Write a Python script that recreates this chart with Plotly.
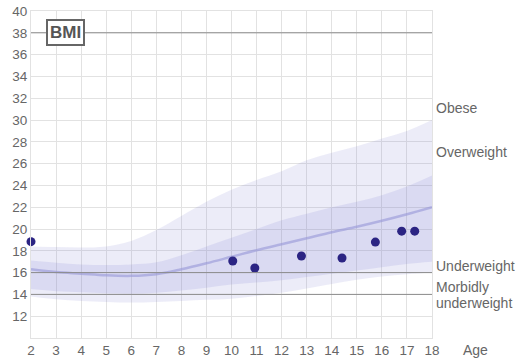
import plotly.graph_objects as go

ages = list(range(2, 19))
outer_top = [18.4, 18.35, 18.3, 18.4, 18.9, 19.9, 21.2, 22.5, 23.6, 24.5, 25.3, 26.3, 27.0, 27.6, 28.3, 29.0, 30.0]
inner_top = [17.1, 16.9, 16.75, 16.7, 16.75, 16.95, 17.6, 18.4, 19.2, 20.0, 20.8, 21.4, 22.0, 22.5, 23.1, 23.9, 24.9]
median = [16.3, 16.05, 15.9, 15.75, 15.7, 15.85, 16.3, 16.85, 17.45, 18.05, 18.6, 19.15, 19.7, 20.2, 20.75, 21.35, 22.0]
inner_bottom = [14.5, 14.3, 14.2, 14.1, 14.05, 14.15, 14.35, 14.6, 14.9, 15.1, 15.3, 15.6, 15.9, 16.2, 16.5, 16.8, 17.0]
outer_bottom = [13.8, 13.55, 13.4, 13.3, 13.25, 13.3, 13.4, 13.5, 13.6, 13.85, 14.15, 14.55, 14.95, 15.35, 15.65, 15.85, 16.0]

pt_age = [2.0, 10.05, 10.93, 12.79, 14.41, 15.74, 16.79, 17.31]
pt_bmi = [18.84, 17.06, 16.42, 17.52, 17.34, 18.8, 19.8, 19.8]

x_ticks = list(range(2, 19))
y_ticks = list(range(12, 41, 2))
threshold_lines = [14, 16, 38]
right_labels = [("Obese", 31.1), ("Overweight", 27.1), ("Underweight", 16.6), ("Morbidly", 14.65), ("underweight", 13.2)]

band_outer = "rgba(120,120,205,0.14)"
band_inner = "rgba(120,120,205,0.15)"

fig = go.Figure()
fig.add_trace(go.Scatter(x=ages, y=outer_bottom, mode="lines", line=dict(width=0, shape="spline"),
                         hoverinfo="skip", showlegend=False))
fig.add_trace(go.Scatter(x=ages, y=outer_top, mode="lines", line=dict(width=0, shape="spline"),
                         fill="tonexty", fillcolor=band_outer, hoverinfo="skip", showlegend=False))
fig.add_trace(go.Scatter(x=ages, y=inner_bottom, mode="lines", line=dict(width=0, shape="spline"),
                         hoverinfo="skip", showlegend=False))
fig.add_trace(go.Scatter(x=ages, y=inner_top, mode="lines", line=dict(width=0, shape="spline"),
                         fill="tonexty", fillcolor=band_inner, hoverinfo="skip", showlegend=False))
fig.add_trace(go.Scatter(x=ages, y=median, mode="lines", line=dict(width=2.5, shape="spline", color="rgba(150,150,215,0.6)"),
                         hoverinfo="skip", showlegend=False))
fig.add_trace(go.Scatter(x=pt_age, y=pt_bmi, mode="markers", marker=dict(size=9, color="#2b2483"),
                         showlegend=False, cliponaxis=False))

for v in threshold_lines:
    fig.add_shape(type="line", xref="x", yref="y", x0=2, x1=18, y0=v, y1=v,
                  line=dict(color="#8c8c8c", width=1), layer="above")

for text, yv in right_labels:
    fig.add_annotation(x=1.0, xref="paper", xshift=2, y=yv, yref="y", text=text, showarrow=False,
                       xanchor="left", yanchor="middle", align="left",
                       font=dict(size=14, color="#666666"))

fig.add_annotation(x=(475 - 31) / 401.0, xref="paper", y=0, yref="paper", yshift=-12,
                   text="Age", showarrow=False, xanchor="center", yanchor="middle",
                   font=dict(size=14, color="#666666"))

fig.add_annotation(x=(65 - 31) / 401.0, xref="paper", y=38, yref="y", text="<b>BMI</b>", showarrow=False,
                   font=dict(size=17, color="#555555"), bgcolor="white", bordercolor="#666666",
                   borderwidth=2, borderpad=2, xanchor="center", yanchor="middle")

fig.update_layout(
    width=516, height=363,
    margin=dict(l=31, r=84, t=11, b=25),
    paper_bgcolor="white", plot_bgcolor="white",
    font=dict(family="Liberation Sans, Arial, sans-serif", size=13, color="#666666"),
    xaxis=dict(range=[2, 18], tickvals=x_ticks, showgrid=True, gridcolor="#e2e2e2", gridwidth=1,
               zeroline=False, showline=True, linecolor="#e2e2e2", mirror=True, ticks="",
               tickfont=dict(size=13.5, color="#666666"), fixedrange=True, automargin=False),
    yaxis=dict(range=[10, 40], tickvals=y_ticks, showgrid=True, gridcolor="#e2e2e2", gridwidth=1,
               zeroline=False, showline=True, linecolor="#e2e2e2", mirror=True, ticks="",
               tickfont=dict(size=13.5, color="#666666"), fixedrange=True, automargin=False,
               ticklabeloverflow="allow"),
)

# remove the browser's default 8px body margin so the figure fills the window exactly
fig.write_html("out.html", config={"displayModeBar": False},
               post_script="document.body.style.margin='0px';")
